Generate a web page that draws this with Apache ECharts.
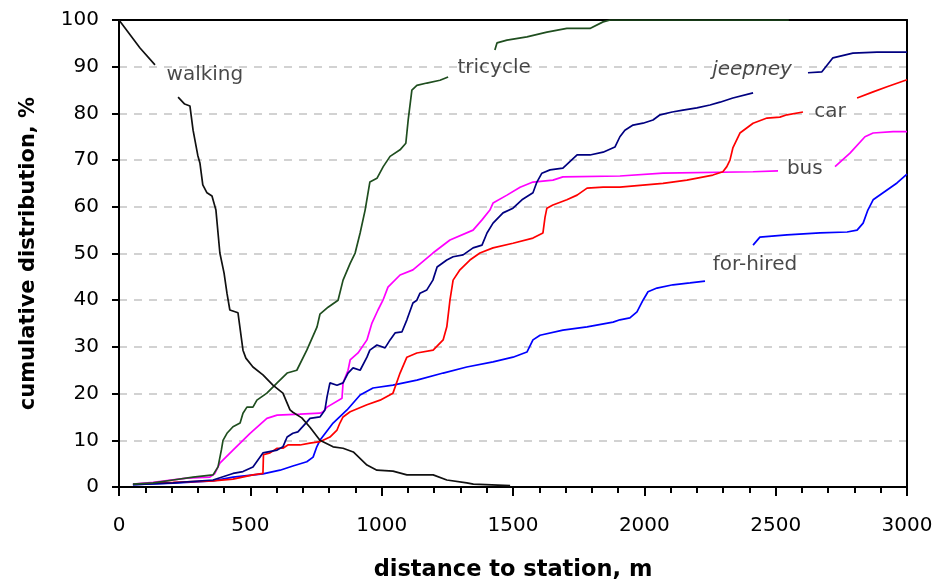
<!DOCTYPE html>
<html>
<head>
<meta charset="utf-8">
<script src="https://cdn.jsdelivr.net/npm/echarts@6/dist/echarts.min.js"></script>
<style>
  html, body { margin: 0; padding: 0; background: #fff; }
  #chartWrap { width: 936px; height: 583px; }
</style>
</head>
<body>
<div id="chartWrap"></div>
<script>
// x: distance (m), y: cumulative %, null = gap where the label sits
var walking = [[0,100],[40,97],[80,94],[137,90.4],null,[225,83.5],[250,82],[270,81.6],[282,76.4],[300,71],[308,69.4],[319,64.7],[335,63],[354,62.3],[369,59.3],[384,50.1],[400,45.8],[411,41.5],[422,37.9],[453,37.3],[472,29.3],[483,27.6],[510,25.7],[548,24],[586,21.8],[624,20.1],[651,16.5],[662,16],[696,14.8],[727,12.8],[765,10],[815,8.6],[853,8.3],[892,7.5],[944,4.7],[982,3.6],[1043,3.4],[1096,2.6],[1196,2.6],[1248,1.5],[1324,0.9],[1349,0.6],[1489,0.3]];
var tricycle = [[53,0.6],[130,0.9],[206,1.5],[282,2.1],[358,2.6],[377,4.3],[390,8],[396,10],[411,11.5],[434,12.9],[461,13.7],[472,15.8],[487,17.1],[510,17.1],[525,18.6],[563,20.1],[602,22.3],[640,24.4],[677,25],[715,29.3],[754,34.3],[765,37],[796,38.5],[834,40],[853,44.3],[880,47.9],[899,50.1],[918,54.4],[937,59.3],[955,65.3],[982,66.1],[1006,68.6],[1032,70.8],[1070,72.2],[1092,73.6],[1101,78.6],[1115,85],[1134,86],[1172,86.5],[1222,87.1],[1253,87.8],null,[1431,93.6],[1439,95.1],[1477,95.7],[1553,96.4],[1629,97.4],[1705,98.2],[1793,98.2],[1843,99.6],[1870,100],[2550,100]];
var jeepney = [[53,0.5],[206,0.9],[358,1.5],[434,2.9],[472,3.3],[510,4.3],[548,7.3],[602,7.9],[624,8.6],[640,10.7],[662,11.5],[681,11.8],[715,13.9],[727,14.7],[765,15],[784,16.5],[792,19.3],[803,22.3],[830,21.8],[853,22.3],[872,24.4],[891,25.5],[918,25],[944,27.8],[955,29.3],[982,30.4],[1013,29.8],[1032,31.5],[1051,33],[1077,33.2],[1096,35.8],[1119,39.4],[1134,40],[1146,41.5],[1172,42.2],[1195,44.3],[1211,47.1],[1248,48.6],[1272,49.3],[1310,49.7],[1348,51.2],[1382,51.8],[1401,54.4],[1424,56.5],[1462,58.7],[1500,59.7],[1534,61.5],[1576,63],[1591,65.3],[1610,67.2],[1641,67.9],[1690,68.3],[1744,71.1],[1793,71.1],[1843,71.7],[1888,72.8],[1907,75],[1926,76.4],[1957,77.5],[1995,77.9],[2033,78.6],[2060,79.7],[2106,80.3],[2147,80.7],[2200,81.2],[2250,81.8],[2288,82.4],[2337,83.3],[2414,84.4],null,[2623,88.7],[2676,88.9],[2718,91.9],[2794,92.9],[2886,93.1],[3000,93.1]];
var car = [[130,0.9],[206,1],[358,1.3],[434,1.7],[510,2.6],[548,2.9],[550,6.9],[575,7.3],[602,8.3],[624,8.3],[643,9],[689,9],[727,9.4],[765,9.7],[803,10.7],[830,12.2],[841,13.7],[853,15],[880,16.1],[944,17.6],[994,18.6],[1043,20.1],[1070,24.4],[1096,27.8],[1134,28.7],[1196,29.3],[1234,31.5],[1248,34.3],[1260,40],[1272,44.3],[1298,46.5],[1336,48.6],[1374,50.1],[1424,51.2],[1500,52.2],[1576,53.3],[1614,54.4],[1622,57.8],[1629,59.7],[1652,60.4],[1705,61.5],[1744,62.5],[1782,64],[1843,64.2],[1907,64.2],[2071,65],[2162,65.7],[2261,66.8],[2299,67.5],[2314,68.6],[2326,70],[2337,72.6],[2364,75.8],[2414,77.9],[2467,79],[2516,79.2],[2543,79.7],[2604,80.3],null,[2810,83.3],[2871,84.6],[2924,85.7],[3000,87.2]];
var bus = [[53,0.6],[130,1],[258,1.9],[346,2.1],[365,2.9],[384,5.1],[434,7.9],[499,11.5],[563,14.7],[602,15.4],[689,15.6],[765,15.8],[777,16.1],[792,17.1],[849,19],[853,22.3],[872,25],[880,27.2],[910,28.7],[944,31.5],[963,35.1],[986,37.9],[1005,40],[1024,42.8],[1070,45.4],[1119,46.5],[1195,50.1],[1260,52.9],[1348,55],[1382,57.2],[1412,59.3],[1424,60.8],[1477,62.5],[1527,64.2],[1576,65.3],[1652,65.7],[1690,66.4],[1907,66.6],[2071,67.2],[2414,67.5],[2509,67.7],null,[2726,68.6],[2783,71.5],[2840,75],[2871,75.8],[2947,76.1],[3000,76.1]];
var forHired = [[53,0.5],[206,0.8],[358,1.3],[434,2.1],[548,2.8],[613,3.6],[662,4.5],[715,5.4],[739,6.4],[753,8.6],[765,10],[815,13.7],[868,16.5],[918,19.7],[967,21.2],[1043,21.8],[1134,22.9],[1234,24.4],[1324,25.7],[1424,26.8],[1500,27.8],[1553,28.9],[1576,31.5],[1603,32.5],[1690,33.6],[1782,34.3],[1881,35.3],[1907,35.8],[1945,36.2],[1972,37.5],[1995,40],[2014,41.8],[2048,42.6],[2109,43.3],[2174,43.7],[2231,44.1],null,[2414,51.8],[2440,53.5],[2543,54],[2669,54.4],[2772,54.6],[2810,55],[2833,56.5],[2851,59.3],[2871,61.5],[2909,63],[2962,65.1],[3000,67]];

// in-plot labels: [x, y] and text
var labelNames = ['walking', 'tricycle', 'jeepney', 'car', 'bus', 'for-hired'];
var labelPos = [[327,88.2],[1428,89.7],[2410,89.3],[2707,80.3],[2611,68.1],[2421,47.5]];

var seriesNames = ['walking', 'tricycle', 'jeepney', 'car', 'bus', 'for-hired'];
var seriesData = [walking, tricycle, jeepney, car, bus, forHired];
var seriesColors = ['#111111', '#1f4e1f', '#000080', '#ff0000', '#ff00ff', '#0000ff'];

var FONT = 'DejaVu Sans';

function toLine(name, data, color) {
  return {
    name: name,
    type: 'line',
    z: 3,
    showSymbol: false,
    symbol: 'none',
    connectNulls: false,
    lineStyle: { color: color, width: 1.7 },
    data: data.map(function(p) { return p === null ? '-' : p; })
  };
}

var series = [];
for (var i = seriesData.length - 1; i >= 0; i--) {
  series.push(toLine(seriesNames[i], seriesData[i], seriesColors[i]));
}

var labelData = [];
for (var j = 0; j < labelNames.length; j++) {
  labelData.push({
    value: [labelPos[j][0], labelPos[j][1]],
    name: labelNames[j],
    label: { fontStyle: labelNames[j] == 'jeepney' ? 'italic' : 'normal' }
  });
}
series.push({
  type: 'scatter',
  z: 3,
  symbolSize: 0,
  silent: true,
  data: labelData,
  label: {
    show: true,
    position: 'inside',
    formatter: '{b}',
    color: '#1a1a1a',
    fontFamily: FONT,
    fontSize: 20
  }
});

// frame lines (top / right) drawn as extra axes so gridlines don't cover them
var frameAxis = {
  type: 'value', min: 0, max: 1,
  axisLine: { show: true, onZero: false, lineStyle: { color: '#000', width: 2 } },
  axisTick: { show: false }, axisLabel: { show: false }, splitLine: { show: false }, z: 2
};

function frame(extra) {
  var o = JSON.parse(JSON.stringify(frameAxis));
  for (var k in extra) o[k] = extra[k];
  return o;
}

var myChart = echarts.init(document.getElementById('chartWrap'));
myChart.setOption({
  animation: false,
  backgroundColor: '#fff',
  grid: { left: 119, right: 29, top: 20, bottom: 96, outerBoundsMode: 'none', containLabel: false },
  xAxis: [{
    type: 'value',
    min: 0, max: 3000, interval: 500,
    name: 'distance to station, m',
    nameLocation: 'middle',
    nameGap: 72,
    nameTextStyle: { fontFamily: FONT, fontWeight: 'bold', fontSize: 22.5, color: '#000' },
    axisLine: { onZero: false, lineStyle: { color: '#000', width: 2 } },
    axisTick: { show: true, inside: false, length: 9, lineStyle: { color: '#000', width: 2 } },
    minorTick: { show: true, splitNumber: 5, length: 6, lineStyle: { color: '#000', width: 2 } },
    axisLabel: { margin: 29, fontFamily: FONT, fontSize: 20, color: '#000', formatter: function(v) { return String(v); } },
    splitLine: { show: false },
    z: 2
  }, frame({ position: 'top' })],
  yAxis: [{
    type: 'value',
    min: 0, max: 100, interval: 10,
    name: 'cumulative distribution, %',
    nameLocation: 'middle',
    nameGap: 80,
    nameRotate: 90,
    nameTextStyle: { fontFamily: FONT, fontWeight: 'bold', fontSize: 21, color: '#000' },
    axisLine: { show: true, onZero: false, lineStyle: { color: '#000', width: 2 } },
    axisTick: { show: true, inside: false, length: 7, lineStyle: { color: '#000', width: 2 } },
    axisLabel: { margin: 20, fontFamily: FONT, fontSize: 20, color: '#000' },
    splitLine: { show: true, lineStyle: { color: '#c4c4c4', width: 1.5, type: [8, 7] } },
    z: 1
  }, frame({ position: 'right' })],
  series: series
});
</script>
</body>
</html>
